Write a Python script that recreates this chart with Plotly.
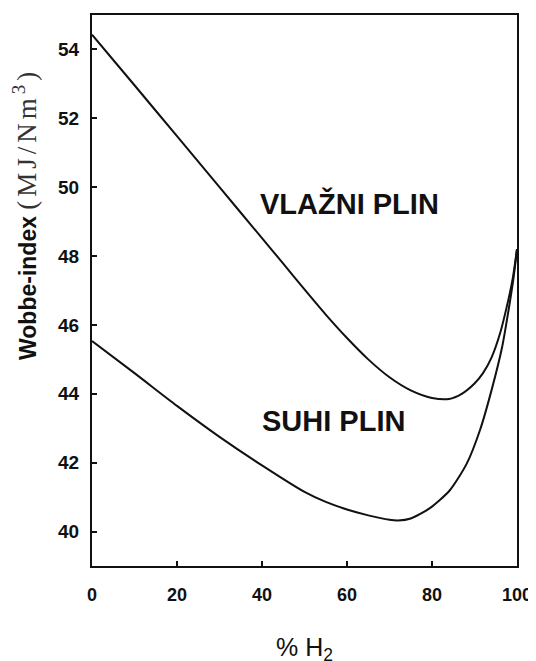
import plotly.graph_objects as go

# Wet gas (VLAŽNI PLIN)
x_wet = [0, 10, 20, 30, 40, 45, 50, 55, 60, 65, 70, 75, 80, 84, 87, 90, 92, 94, 96, 98, 99, 100]
y_wet = [54.43, 52.96, 51.48, 50.00, 48.52, 47.78, 47.03, 46.30, 45.62, 45.00, 44.48, 44.10, 43.88, 43.85, 44.00, 44.30, 44.60, 45.05, 45.75, 46.75, 47.35, 48.20]

# Dry gas (SUHI PLIN)
x_dry = [0, 10, 20, 30, 40, 50, 55, 60, 65, 70, 72, 75, 79.5, 84.2, 88.2, 91.3, 94, 96.5, 98, 99.2, 100]
y_dry = [45.53, 44.60, 43.65, 42.75, 41.92, 41.15, 40.86, 40.64, 40.47, 40.34, 40.32, 40.38, 40.68, 41.20, 41.98, 42.95, 44.10, 45.36, 46.42, 47.38, 48.20]

x_ticks = [0, 20, 40, 60, 80, 100]
y_ticks = [40, 42, 44, 46, 48, 50, 52, 54]

label_wet = "VLAŽNI PLIN"
label_dry = "SUHI PLIN"
x_title = "% H<sub>2</sub>"
y_title_main = "Wobbe-index "
y_title_units = "(MJ/Nm<sup>3</sup>)"

fig = go.Figure()
for xs, ys in [(x_wet, y_wet), (x_dry, y_dry)]:
    fig.add_trace(go.Scatter(x=xs, y=ys, mode="lines",
                             line=dict(color="#111111", width=2, shape="spline", smoothing=0.7),
                             showlegend=False, hoverinfo="skip"))

sans = "Liberation Sans, Arial, sans-serif"

# page body has an 8px default margin, so the figure is 8px smaller and shifted
fig.update_layout(
    width=528, height=653,
    margin=dict(l=84, r=19, t=7, b=95),
    paper_bgcolor="white", plot_bgcolor="white",
    font=dict(family=sans, color="#111111"),
)
fig.update_xaxes(
    range=[0, 100], tickvals=x_ticks, ticktext=[str(v) for v in x_ticks],
    showgrid=False, zeroline=False, automargin=False,
    showline=True, linecolor="#111111", linewidth=2, mirror=True,
    ticks="inside", ticklen=5, tickwidth=1.5, tickcolor="#111111",
    tickfont=dict(family=sans, size=18, weight="bold", color="#111111"),
    ticklabelstandoff=11,
)
fig.update_yaxes(
    range=[39, 55], tickvals=y_ticks, ticktext=[str(v) for v in y_ticks],
    showgrid=False, zeroline=False, automargin=False,
    showline=True, linecolor="#111111", linewidth=2, mirror=True,
    ticks="inside", ticklen=5, tickwidth=1.5, tickcolor="#111111",
    tickfont=dict(family=sans, size=19, weight="bold", color="#111111"),
    ticklabelstandoff=7,
)

# curve labels
fig.add_annotation(x=60.7, y=49.52, xref="x", yref="y", text=label_wet, showarrow=False,
                   font=dict(family=sans, size=29, weight="bold", color="#111111"),
                   xanchor="center", yanchor="middle")
fig.add_annotation(x=56.8, y=43.2, xref="x", yref="y", text=label_dry, showarrow=False,
                   font=dict(family=sans, size=29, weight="bold", color="#111111"),
                   xanchor="center", yanchor="middle")

# x-axis title
fig.add_annotation(x=0.5, y=-65 / 551, xref="paper", yref="paper", text=x_title, showarrow=False,
                   font=dict(family=sans, size=25, color="#111111"),
                   xanchor="center", yanchor="top")

# y-axis title
fig.add_annotation(
    x=(25 - 92) / 425, y=(566 - 362) / 551, xref="paper", yref="paper",
    text=y_title_main + '<span style="font-family:Liberation Serif, serif;font-weight:normal;font-size:27px;letter-spacing:4px;fill:#333333;">'
         + y_title_units + "</span>",
    textangle=-90, showarrow=False,
    font=dict(family=sans, size=23, weight="bold", color="#111111"),
    xanchor="center", yanchor="bottom",
)

fig.write_html("out.html")
